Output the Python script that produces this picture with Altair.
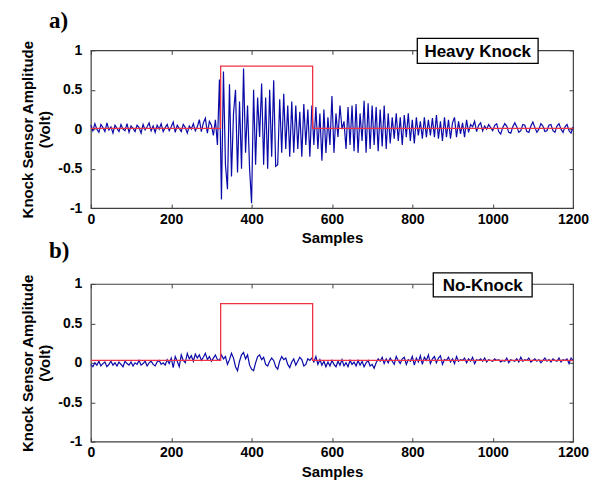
import altair as alt
import pandas as pd

# ---------------- data ----------------
SAMPLE_STEP = 5  # one value every 5 samples, 0..1200

HEAVY_KNOCK = [
    # 0-295
    0.05, -0.02, 0.07, 0.0, -0.04, 0.06, 0.02, -0.03, 0.08, -0.01,
    0.03, -0.05, 0.05, 0.01, -0.03, 0.06, 0.0, -0.02, 0.07, -0.04,
    0.04, 0.01, -0.03, 0.05, 0.02, -0.05, 0.06, -0.01, 0.03, 0.08,
    -0.02, 0.04, -0.04, 0.05, 0.0, 0.07, -0.03, 0.02, 0.06, -0.02,
    0.03, 0.09, -0.04, 0.05, 0.01, -0.03, 0.06, 0.02, -0.05, 0.04,
    0.0, 0.07, -0.02, 0.03, 0.12, -0.03, 0.08, 0.14, -0.05, 0.1,
    # 300-315
    0.05, -0.08, 0.12, -0.2,
    # 320-560
    0.63, -0.89, 0.73, -0.45, -0.76, 0.57, -0.6, 0.2, 0.5, -0.55,
    0.35, -0.5, 0.77, -0.3, 0.3, -0.5, -0.94, 0.5, -0.45, 0.4,
    -0.1, 0.58, -0.45, 0.4, -0.5, 0.5, -0.35, 0.62, -0.47, -0.45,
    0.38, -0.3, 0.45, -0.25, 0.3, -0.35, 0.35, -0.3, 0.3, -0.25,
    0.22, -0.35, 0.32, -0.2, 0.25, -0.35, 0.3, -0.2, 0.28,
    # 565-750
    -0.25, 0.2, -0.4, 0.25, -0.3, 0.15, -0.2, 0.42, -0.3, 0.2,
    -0.1, 0.3, 0.0, 0.1, -0.25, 0.28, -0.2, 0.3, -0.28, 0.32,
    -0.3, 0.2, -0.15, 0.36, -0.3, 0.33, -0.25, 0.3, -0.2, 0.28,
    -0.28, 0.25, -0.22, 0.3, -0.25, 0.2, -0.18, 0.15,
    # 755-950
    -0.12, 0.2, -0.15, 0.15, -0.2, 0.18, -0.1, 0.2, -0.15, 0.12,
    -0.18, 0.15, -0.08, 0.1, -0.12, 0.15, -0.1, 0.12, -0.08, 0.14,
    -0.1, 0.18, -0.12, 0.1, -0.15, 0.15, -0.1, 0.12, -0.12, 0.08,
    0.15, -0.1, 0.1, -0.06, 0.08, -0.1, 0.12, -0.04, 0.06, 0.03,
    # 955-1200
    0.1, -0.03, 0.05, 0.08, -0.02, 0.04, 0.0, 0.06, 0.02, -0.02,
    0.05, 0.07, -0.03, -0.06, 0.02, 0.07, 0.04, -0.04, -0.05, 0.03,
    0.08, 0.03, -0.04, -0.02, 0.06, 0.05, -0.03, -0.04, 0.04, 0.09,
    0.02, -0.04, 0.0, 0.07, 0.04, -0.03, -0.02, 0.05, 0.06, -0.02,
    -0.04, 0.04, 0.07, 0.0, -0.04, 0.03, 0.06, -0.02, -0.05, 0.03,
]

NO_KNOCK = [
    # 0-195
    -0.02, -0.05, 0.0, -0.03, 0.02, -0.04, -0.01, 0.01, -0.05, -0.02,
    0.02, -0.03, 0.0, -0.04, 0.01, -0.02, -0.05, 0.02, -0.01, -0.03,
    0.01, -0.04, 0.0, -0.02, 0.03, -0.03, -0.01, 0.02, -0.04, 0.0,
    0.02, -0.02, -0.04, 0.01, 0.03, -0.02, 0.0, -0.03, 0.04, -0.01,
    # 200-315
    0.06, -0.06, 0.08, 0.02, -0.05, 0.1, 0.03, 0.0, 0.12, 0.05,
    0.09, 0.02, 0.11, 0.06, 0.1, 0.03, 0.07, 0.12, 0.04, 0.08,
    0.02, 0.06, 0.1, 0.04,
    # 320-560
    0.03, 0.1, 0.05, 0.08, -0.02, 0.04, 0.12, 0.06, -0.05, -0.1,
    0.02, 0.1, 0.13, 0.05, 0.1, -0.03, -0.08, -0.1, 0.0, 0.08,
    0.1, 0.04, 0.07, -0.02, -0.04, 0.02, 0.06, 0.03, -0.05, -0.08,
    0.02, 0.08, 0.04, 0.06, -0.02, -0.06, 0.01, 0.05, -0.03, 0.02,
    0.07, 0.04, -0.04, -0.02, 0.05, 0.03, 0.06, 0.01, 0.08,
    # 565-715
    -0.02, 0.04, -0.03, 0.02, -0.05, 0.01, -0.04, 0.03, -0.02, -0.05,
    0.02, -0.03, 0.04, -0.04, 0.0, -0.05, 0.03, -0.02, 0.01, -0.04,
    0.03, -0.03, 0.02, -0.05, 0.0, 0.03, -0.04, -0.02, -0.07, 0.0,
    0.05,
    # 720-995
    0.02, 0.07, -0.01, 0.05, 0.0, 0.06, 0.02, -0.02, 0.08, 0.03,
    -0.01, 0.05, 0.07, -0.02, 0.04, 0.02, 0.08, -0.03, 0.06, 0.01,
    0.09, -0.02, 0.07, 0.03, 0.1, -0.01, 0.05, 0.08, 0.0, 0.06,
    0.09, -0.02, 0.04, 0.03, 0.07, 0.01, 0.05, -0.01, 0.08, 0.02,
    0.04, 0.03, 0.06, 0.0, 0.05, 0.02, 0.07, -0.01, 0.04, 0.03,
    0.05, 0.02, 0.06, 0.01, 0.04, 0.03,
    # 1000-1200
    0.02, 0.05, 0.03, 0.04, 0.01, 0.03, 0.02, 0.06, 0.0, 0.04,
    0.03, 0.02, 0.05, 0.01, 0.07, 0.02, 0.04, 0.03, 0.06, 0.01,
    0.03, 0.05, 0.02, 0.04, 0.0, 0.03, 0.06, 0.02, 0.04, 0.01,
    0.05, 0.03, 0.02, 0.06, 0.01, 0.04, 0.03, 0.05, -0.01, 0.06,
    0.03,
]

# red analysis window (step outline)
WINDOW_X = [0, 323, 323, 552, 552, 1200]
WINDOW_HEAVY = [0.01, 0.01, 0.8, 0.8, 0.01, 0.01]
WINDOW_NO = [0.03, 0.03, 0.75, 0.75, 0.03, 0.03]

X_TICKS = [0, 200, 400, 600, 800, 1000, 1200]
Y_TICKS = [-1, -0.5, 0, 0.5, 1]
PANEL_TAGS = ["a)", "b)"]
BOX_LABELS = ["Heavy Knock", "No-Knock"]

assert len(HEAVY_KNOCK) == 241, len(HEAVY_KNOCK)
assert len(NO_KNOCK) == 241, len(NO_KNOCK)

# ---------------- styling ----------------
W, H = 483, 158
FONT = "Liberation Sans"
BLUE = "#0a0aa8"
RED = "#ee3344"
FRAME = "#404040"


def panel(signal, window, tag, box_label, box, title_offset):
    sig = pd.DataFrame({
        "sample": [i * SAMPLE_STEP for i in range(len(signal))],
        "amp": signal,
    })
    win = pd.DataFrame({"sample": WINDOW_X, "amp": window, "k": list(range(len(WINDOW_X)))})
    lab = pd.DataFrame({"label": [box_label]})

    xs = alt.Scale(domain=[0, 1200], nice=False, zero=False)
    ys = alt.Scale(domain=[-1, 1], nice=False)

    blue = alt.Chart(sig).mark_line(color=BLUE, strokeWidth=1.2).encode(
        x=alt.X("sample:Q", scale=xs, axis=alt.Axis(
            orient="bottom", values=X_TICKS, offset=-4, tickSize=4, domain=False,
            grid=False, labelPadding=4, labelExpr="'' + datum.value",
            labelFlush=False, title="Samples", titlePadding=5)),
        y=alt.Y("amp:Q", scale=ys, axis=alt.Axis(
            orient="left", values=Y_TICKS, offset=-4, tickSize=4, domain=False,
            grid=False, labelPadding=9, labelExpr="'' + datum.value",
            labelFlush=False,
            title=["Knock Sensor Amplitude", "(Volt)"], titlePadding=5,
            titleLineHeight=17)),
    )
    red = alt.Chart(win).mark_line(color=RED, strokeWidth=1.3).encode(
        x=alt.X("sample:Q", scale=xs, axis=alt.Axis(
            orient="top", values=X_TICKS, offset=-4, tickSize=4, domain=False,
            grid=False, labels=False, title=None)),
        y=alt.Y("amp:Q", scale=ys, axis=alt.Axis(
            orient="right", values=Y_TICKS, offset=-4, tickSize=4, domain=False,
            grid=False, labels=False, title=None)),
        order="k:Q",
    )
    x0, x1, y0, y1 = box
    rect = alt.Chart(lab).mark_rect(fill="white", stroke="black", strokeWidth=1.3).encode(
        x=alt.value(x0), x2=alt.value(x1), y=alt.value(y0), y2=alt.value(y1))
    text = alt.Chart(lab).mark_text(
        font=FONT, fontSize=17, fontWeight="bold", align="center",
        baseline="middle", color="black").encode(
        x=alt.value((x0 + x1) / 2), y=alt.value((y0 + y1) / 2 + 1), text="label:N")

    return alt.layer(blue, red, rect, text).resolve_axis(
        x="independent", y="independent"
    ).properties(
        width=W, height=H,
        title=alt.TitleParams(
            text=tag, anchor="start", frame="group", dx=-42, offset=title_offset,
            font="Liberation Serif", fontSize=23, fontWeight="bold", color="black"),
    )


pa = panel(HEAVY_KNOCK, WINDOW_HEAVY, PANEL_TAGS[0], BOX_LABELS[0], (327, 448, -12, 13), 5)
pb = panel(NO_KNOCK, WINDOW_NO, PANEL_TAGS[1], BOX_LABELS[1], (343, 442, -11, 13), 9)

chart = alt.vconcat(pa, pb, spacing=76, bounds="flush").configure_view(
    stroke=FRAME, strokeWidth=1.2
).configure_axis(
    labelFont=FONT, labelFontSize=14, labelFontWeight="bold", labelColor="black",
    titleFont=FONT, titleFontSize=15, titleFontWeight="bold", titleColor="black",
    tickColor=FRAME,
).properties(
    padding={"left": 20, "top": 8, "right": 11, "bottom": 3},
    background="white",
)

chart.save("out.html", embed_options={"renderer": "svg", "actions": False})
